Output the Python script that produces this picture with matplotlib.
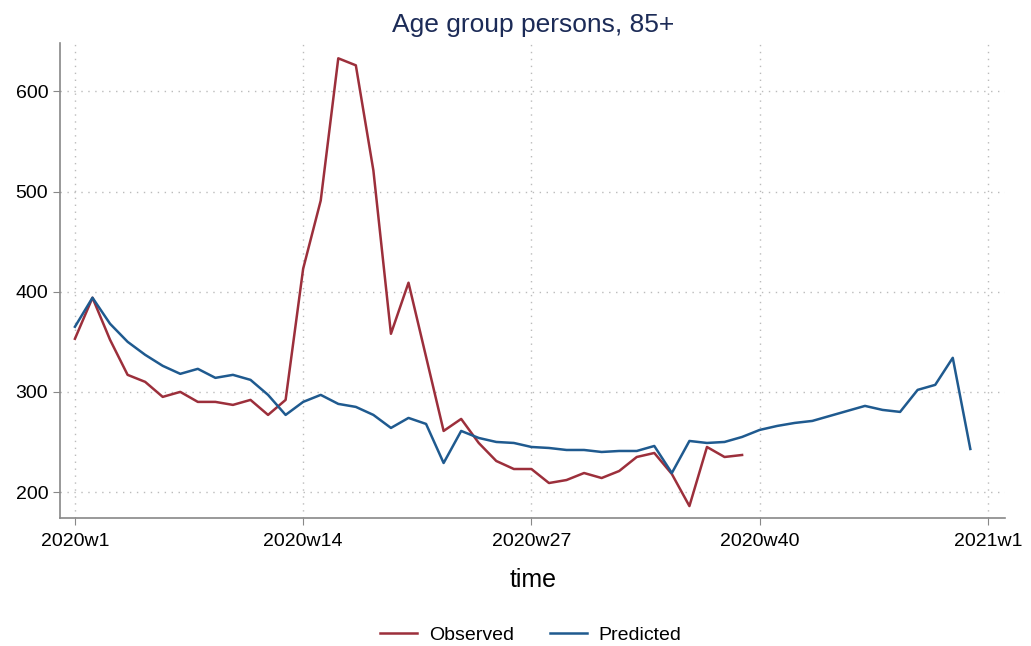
import matplotlib
matplotlib.use("Agg")
import matplotlib.pyplot as plt

plt.rcParams['font.family'] = ['Liberation Sans', 'DejaVu Sans']

# week index 0 = 2020w1 ... 52 = 2021w1
observed = [353, 394, 352, 317, 310, 295, 300, 290, 290, 287,
            292, 277, 292, 423, 491, 633, 626, 521, 358, 409,
            335, 261, 273, 249, 231, 223, 223, 209, 212, 219,
            214, 221, 235, 239, 218, 186, 245, 235, 237]
predicted = [365, 394, 368, 350, 337, 326, 318, 323, 314, 317,
             312, 297, 277, 290, 297, 288, 285, 277, 264, 274,
             268, 229, 261, 254, 250, 249, 245, 244, 242, 242,
             240, 241, 241, 246, 219, 251, 249, 250, 255, 262,
             266, 269, 271, 276, 281, 286, 282, 280, 302, 307,
             334, 243]
tick_pos = [0, 13, 26, 39, 52]
tick_labels = ["2020w1", "2020w14", "2020w27", "2020w40", "2021w1"]
y_ticks = [200, 300, 400, 500, 600]

red = '#9c2f3b'
blue = '#1f5a8f'

fig = plt.figure(figsize=(10.31, 6.46), dpi=100)
ax = fig.add_axes([0.0582, 0.198, 0.917, 0.735])

ax.plot(range(len(observed)), observed, color=red, lw=1.8, label='Observed')
ax.plot(range(len(predicted)), predicted, color=blue, lw=1.8, label='Predicted')

ax.set_xlim(-0.85, 53.0)
ax.set_ylim(174, 648)
ax.set_xticks(tick_pos)
ax.set_xticklabels(tick_labels)
ax.set_yticks(y_ticks)
ax.tick_params(labelsize=14, color='#888888', length=5)
ax.tick_params(axis='x', pad=6)
ax.grid(True, linestyle=(0, (1, 4)), color='#bbbbbb', lw=1)

for s in ['top', 'right']:
    ax.spines[s].set_visible(False)
for s in ['left', 'bottom']:
    ax.spines[s].set_color('#888888')
    ax.spines[s].set_linewidth(1.2)

ax.set_xlabel('time', fontsize=18, labelpad=13)
fig.suptitle('Age group persons, 85+', fontsize=19, color='#1c2b57', x=0.517, y=0.98)

fig.legend(loc='lower center', bbox_to_anchor=(0.515, -0.024), ncol=2, frameon=False,
           fontsize=14, handlelength=1.9, handletextpad=0.6, columnspacing=1.85)

fig.savefig('out.png', dpi=100)
